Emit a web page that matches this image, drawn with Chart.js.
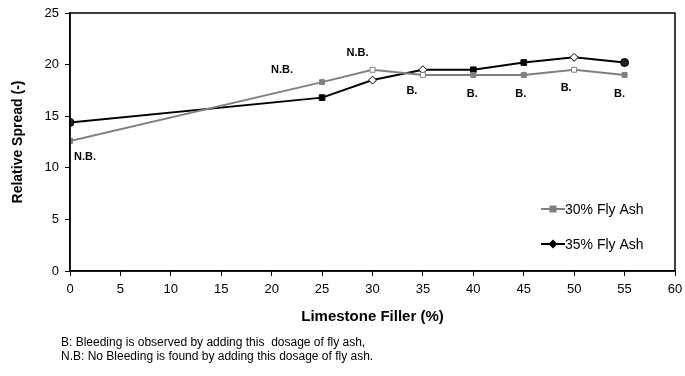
<!DOCTYPE html>
<html>
<head>
<meta charset="utf-8">
<script src="https://cdn.jsdelivr.net/npm/chart.js@4.4.1/dist/chart.umd.min.js"></script>
<style>
  html, body { margin: 0; padding: 0; background: #fff; }
  #wrap { width: 685px; height: 376px; }
</style>
</head>
<body>
<div id="wrap"><canvas id="c" width="685" height="376"></canvas></div>
<script>
// Limestone filler dosage (%)
const limestone = [0, 25, 30, 35, 40, 45, 50, 55];
// Relative spread for each fly ash content
const spread30 = [12.6, 18.3, 19.5, 19.0, 19.0, 19.0, 19.5, 19.0];
const spread35 = [14.4, 16.8, 18.5, 19.5, 19.5, 20.2, 20.7, 20.2];
// Bleeding observations at each dosage
const bleedNotes = ['N.B.', 'N.B.', 'N.B.', 'B.', 'B.', 'B.', 'B.', 'B.'];
const seriesNames = ['30% Fly Ash', '35% Fly Ash'];
const xTicks = [0, 5, 10, 15, 20, 25, 30, 35, 40, 45, 50, 55, 60];
const yTicks = [0, 5, 10, 15, 20, 25];
const footnotes = [
  'B: Bleeding is observed by adding this  dosage of fly ash,',
  'N.B: No Bleeding is found by adding this dosage of fly ash.'
];

const FONT = "'Liberation Sans', Arial, sans-serif";
const GRAY = '#808080';

const toPoints = ys => limestone.map((x, i) => ({ x, y: ys[i] }));

// marker styles per point
const style30 = ['rect', 'rect', 'rect', 'rect', 'rect', 'rect', 'rect', 'rect'];
const fill30 = [GRAY, GRAY, '#fff', '#fff', GRAY, GRAY, '#fff', GRAY];
const style35 = ['circle', 'rect', 'rectRot', 'rectRot', 'rect', 'rect', 'rectRot', 'circle'];
const fill35 = ['#222', '#000', '#fff', '#fff', '#000', '#000', '#fff', '#222'];

// pixel offsets of the bleeding notes relative to the lower series point
const noteOffsets = [[15, 16], [-40, -12], [-15, -17], [-11, 16], [-1, 19], [-3, 19], [-8, 18], [-5, 19]];

const framePlugin = {
  id: 'frame',
  afterDraw(chart) {
    const { ctx, chartArea: a, scales } = chart;
    ctx.save();
    ctx.strokeStyle = '#000';
    ctx.lineWidth = 1.5;
    ctx.strokeRect(a.left, a.top, a.right - a.left, a.bottom - a.top);

    // bleeding notes
    ctx.fillStyle = '#000';
    ctx.font = 'bold 11px ' + FONT;
    ctx.textAlign = 'center';
    ctx.textBaseline = 'middle';
    bleedNotes.forEach((t, i) => {
      const px = scales.x.getPixelForValue(limestone[i]);
      const py = scales.y.getPixelForValue(spread30[i]);
      ctx.fillText(t, px + noteOffsets[i][0], py + noteOffsets[i][1]);
    });

    // legend
    const entries = chart.data.datasets;
    const lx = 541, ly = [209, 244];
    entries.forEach((ds, i) => {
      const y = ly[i];
      ctx.strokeStyle = ds.borderColor;
      ctx.lineWidth = 2;
      ctx.beginPath();
      ctx.moveTo(lx, y);
      ctx.lineTo(lx + 24, y);
      ctx.stroke();
      ctx.fillStyle = ds.borderColor;
      ctx.beginPath();
      if (i === 0) {
        ctx.rect(lx + 8.5, y - 3.5, 7, 7);
      } else {
        ctx.moveTo(lx + 12, y - 4.5);
        ctx.lineTo(lx + 16.5, y);
        ctx.lineTo(lx + 12, y + 4.5);
        ctx.lineTo(lx + 7.5, y);
        ctx.closePath();
      }
      ctx.fill();
      ctx.fillStyle = '#000';
      ctx.font = '14px ' + FONT;
      ctx.textAlign = 'left';
      ctx.fillText(ds.label, lx + 24, y + 1);
    });

    // footnotes
    ctx.font = '12px ' + FONT;
    ctx.textAlign = 'left';
    footnotes.forEach((t, i) => ctx.fillText(t, 61, 343 + i * 14));
    ctx.restore();
  }
};

new Chart(document.getElementById('c'), {
  type: 'line',
  data: {
    datasets: [
      {
        label: seriesNames[0],
        data: toPoints(spread30),
        borderColor: GRAY,
        borderWidth: 2,
        pointStyle: style30,
        pointBackgroundColor: fill30,
        pointBorderColor: GRAY,
        pointBorderWidth: 1,
        pointRadius: 3.5,
        tension: 0
      },
      {
        label: seriesNames[1],
        data: toPoints(spread35),
        borderColor: '#000',
        borderWidth: 2,
        pointStyle: style35,
        pointBackgroundColor: fill35,
        pointBorderColor: '#000',
        pointBorderWidth: 1,
        pointRadius: 4,
        tension: 0
      }
    ]
  },
  options: {
    responsive: false,
    animation: false,
    layout: { padding: { top: 13, right: 10, left: 0, bottom: 0 } },
    plugins: { legend: { display: false }, tooltip: { enabled: false } },
    scales: {
      x: {
        type: 'linear',
        min: 0, max: 60,
        afterFit(s) { s.height = 105; s.paddingRight = 0; s.paddingLeft = 0; },
        afterBuildTicks(s) { s.ticks = xTicks.map(v => ({ value: v })); },
        grid: { display: true, drawOnChartArea: false, drawTicks: true, tickLength: 5, color: '#000' },
        border: { display: true, color: '#000', width: 1.5 },
        ticks: { color: '#000', font: { family: FONT, size: 13 }, padding: 6, maxRotation: 0 },
        title: {
          display: true, text: 'Limestone Filler (%)', color: '#000',
          font: { family: FONT, size: 15, weight: 'bold' },
          padding: { top: 0, bottom: 50 }
        }
      },
      y: {
        min: 0, max: 25,
        afterFit(s) { s.width = 70; s.paddingTop = 0; s.paddingBottom = 0; },
        afterBuildTicks(s) { s.ticks = yTicks.map(v => ({ value: v })); },
        grid: { display: true, drawOnChartArea: false, drawTicks: true, tickLength: 5, color: '#000' },
        border: { display: true, color: '#000', width: 1.5 },
        ticks: { color: '#000', font: { family: FONT, size: 13 }, padding: 6 },
        title: {
          display: true, text: 'Relative Spread (-)', color: '#000',
          font: { family: FONT, size: 14, weight: 'bold' },
          padding: { top: 10, bottom: 0 }
        }
      }
    }
  },
  plugins: [framePlugin]
});
</script>
</body>
</html>
